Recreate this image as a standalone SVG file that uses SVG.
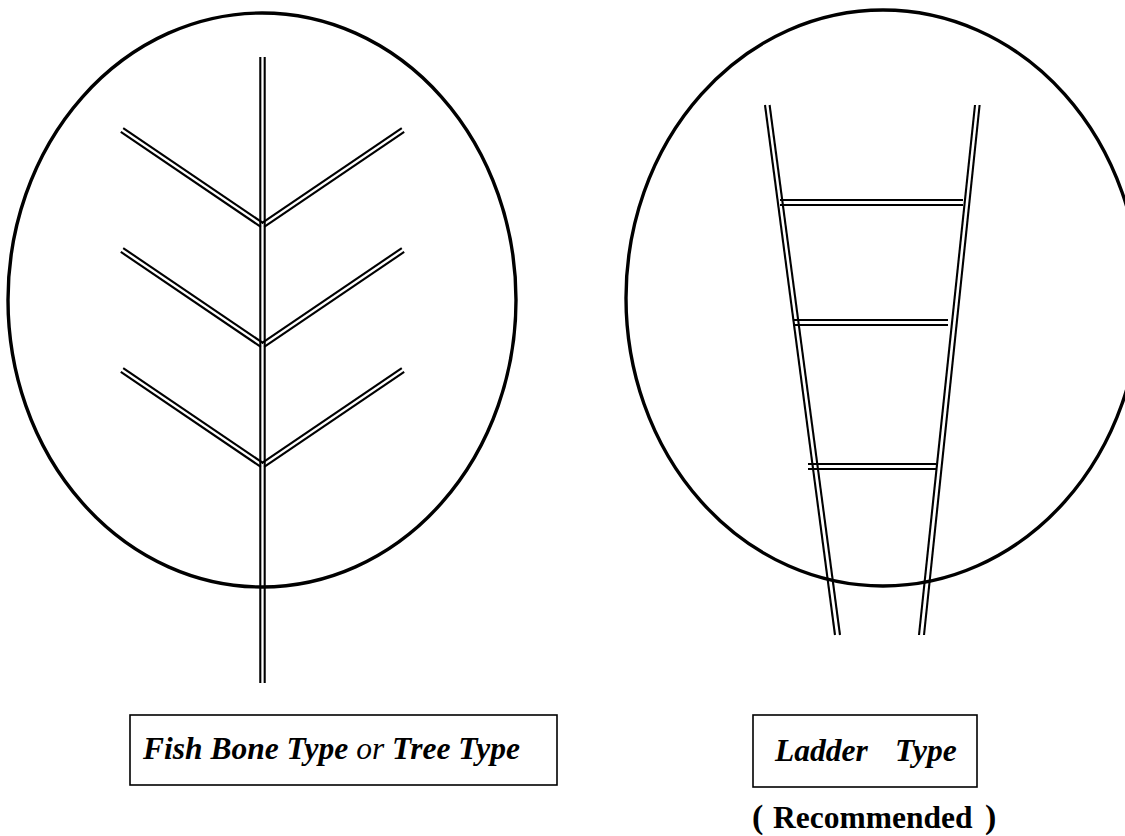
<svg xmlns="http://www.w3.org/2000/svg" width="1125" height="836" viewBox="0 0 1125 836">
<style>
.oval{fill:none;stroke:#000;stroke-width:3.4}
.dl{stroke:#000;stroke-width:2.1;fill:none}
.box{fill:#fff;stroke:#000;stroke-width:1.6}
.lbl{font-family:"Liberation Serif","Times New Roman",serif;font-size:31.5px;fill:#000}
.bi{font-weight:bold;font-style:italic}
.it{font-style:italic;font-weight:normal}
.b{font-weight:bold}
</style>
<rect width="1125" height="836" fill="#fff"/>
<g id="fishbone">
  <ellipse class="oval" cx="262" cy="300" rx="254" ry="287"/>
  <g class="dl">
    <line x1="260.3" y1="57" x2="260.3" y2="683"/>
    <line x1="264.7" y1="57" x2="264.7" y2="683"/>
  </g>
  <g id="branches" class="dl">
    <g id="row1">
      <line x1="123.2" y1="128.1" x2="263.2" y2="223.1"/>
      <line x1="120.8" y1="131.9" x2="260.8" y2="226.9"/>
      <line x1="401.8" y1="128.1" x2="261.8" y2="223.1"/>
      <line x1="404.2" y1="131.9" x2="264.2" y2="226.9"/>
    </g>
    <use href="#row1" transform="translate(0,120)"/>
    <use href="#row1" transform="translate(0,240)"/>
  </g>
</g>
<g id="ladder">
  <ellipse class="oval" cx="883" cy="298" rx="257" ry="288"/>
  <g class="dl">
    <line x1="765" y1="105" x2="835" y2="635"/>
    <line x1="769.6" y1="105" x2="840" y2="635"/>
    <line x1="975" y1="105" x2="919" y2="635"/>
    <line x1="979.6" y1="105" x2="924" y2="635"/>
    <line x1="780" y1="200" x2="963" y2="200"/>
    <line x1="780" y1="205" x2="963" y2="205"/>
    <line x1="793" y1="320" x2="948" y2="320"/>
    <line x1="793" y1="325" x2="948" y2="325"/>
    <line x1="808" y1="464" x2="936" y2="464"/>
    <line x1="808" y1="469" x2="936" y2="469"/>
  </g>
</g>
<g id="label-fishbone">
  <rect class="box" x="130" y="715" width="427" height="70"/>
  <text class="lbl" x="143" y="759"><tspan class="bi">Fish Bone Type </tspan><tspan class="it">or</tspan><tspan class="bi"> Tree Type</tspan></text>
</g>
<g id="label-ladder">
  <rect class="box" x="753" y="715" width="224" height="72"/>
  <text class="lbl bi" x="775" y="761">Ladder</text>
  <text class="lbl bi" x="895" y="761">Type</text>
</g>
<g id="label-recommended">
  <text class="lbl b" y="828"><tspan x="752" font-size="34">(</tspan><tspan x="773">Recommended</tspan><tspan x="985" font-size="34">)</tspan></text>
</g>
</svg>
